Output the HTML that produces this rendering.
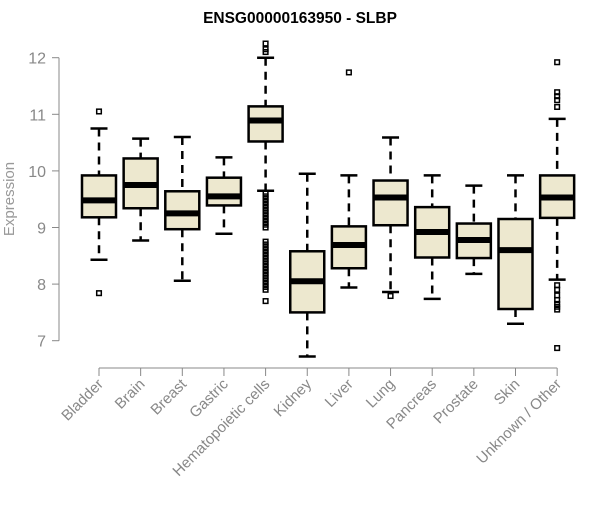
<!DOCTYPE html>
<html><head><meta charset="utf-8"><style>
body{margin:0;background:#fff}
svg{font-family:"Liberation Sans",sans-serif}
</style></head><body>
<svg id="chart" width="600" height="500">
<text x="300" y="23" text-anchor="middle" font-weight="bold" font-size="15.5">ENSG00000163950 - SLBP</text>
<text transform="translate(14,199) rotate(-90)" text-anchor="middle" font-size="15" fill="#999">Expression</text>
<g id="yaxis"></g>
<g id="boxes"></g>
<g id="xlabels"></g>
</svg>
<script>
const categories=["Bladder","Brain","Breast","Gastric","Hematopoietic cells","Kidney","Liver","Lung","Pancreas","Prostate","Skin","Unknown / Other"];
const whiskerHigh=[10.75,10.57,10.6,10.24,12.0,9.95,9.92,10.59,9.92,9.74,9.92,10.92];
const q3=[9.92,10.22,9.64,9.88,11.14,8.58,9.02,9.83,9.36,9.07,9.15,9.92];
const medians=[9.48,9.75,9.25,9.55,10.89,8.05,8.69,9.53,8.92,8.78,8.6,9.53];
const q1=[9.18,9.34,8.97,9.39,10.52,7.5,8.28,9.04,8.47,8.46,7.56,9.17];
const whiskerLow=[8.43,8.77,8.06,8.89,9.65,6.72,7.94,7.86,7.74,8.18,7.3,8.08];
const outliers=[[11.05,7.84],[],[],[],[12.1,12.15,12.25,9.6,9.55,9.5,9.45,9.4,9.35,9.3,9.25,9.2,9.15,9.1,9.05,9.0,8.75,8.7,8.65,8.6,8.55,8.5,8.45,8.4,8.35,8.3,8.25,8.2,8.15,8.1,8.05,8.0,7.95,7.9,7.7],[],[11.74],[7.79],[],[],[],[11.92,11.39,11.32,11.25,11.13,7.98,7.9,7.8,7.72,7.65,7.6,7.55,6.87]];
const yTicks=[7,8,9,10,11,12];
const NS="http://www.w3.org/2000/svg";
const y=v=>57.7+(12-v)*56.6;
const x=i=>99+i*41.65;
function mk(tag,attrs,parent){const e=document.createElementNS(NS,tag);for(const k in attrs)e.setAttribute(k,attrs[k]);parent.appendChild(e);return e;}
const ya=document.getElementById('yaxis');
const axl=mk('line',{x1:59,x2:59,y1:y(12),y2:y(7),stroke:'#888'},ya);


yTicks.forEach(t=>{
 const tk=mk('line',{x1:52,x2:59,y1:y(t),y2:y(t),stroke:'#888'},ya);
 
 
 const tl=mk('text',{x:46,y:y(t)+6,'text-anchor':'end','font-size':16,fill:'#888'},ya);
 tl.textContent=t;
 
 
});
const bg=document.getElementById('boxes');
const xl=document.getElementById('xlabels');
categories.forEach((c,i)=>{
 const cx=x(i),hw=17;
 const g=mk('g',{},bg);
 
 
 mk('line',{x1:cx,x2:cx,y1:y(whiskerHigh[i]),y2:y(q3[i]),stroke:'#000','stroke-width':2.5,'stroke-dasharray':'8,6'},g);
 mk('line',{x1:cx,x2:cx,y1:y(q1[i]),y2:y(whiskerLow[i]),stroke:'#000','stroke-width':2.5,'stroke-dasharray':'8,6'},g);
 mk('line',{x1:cx-8.5,x2:cx+8.5,y1:y(whiskerHigh[i]),y2:y(whiskerHigh[i]),stroke:'#000','stroke-width':2.5},g);
 mk('line',{x1:cx-8.5,x2:cx+8.5,y1:y(whiskerLow[i]),y2:y(whiskerLow[i]),stroke:'#000','stroke-width':2.5},g);
 mk('rect',{x:cx-hw,y:y(q3[i]),width:hw*2,height:y(q1[i])-y(q3[i]),fill:'#ede8cf',stroke:'#000','stroke-width':2.5},g);
 mk('line',{x1:cx-hw,x2:cx+hw,y1:y(medians[i]),y2:y(medians[i]),stroke:'#000','stroke-width':6},g);
 outliers[i].forEach(v=>{
  const p=mk('rect',{x:cx-2.3,y:y(v)-2.3,width:4.6,height:4.6,fill:'none',stroke:'#000','stroke-width':1.5},g);
  
  
 });
 mk('line',{x1:cx,x2:cx,y1:368,y2:376,stroke:'#888'},xl);
 const t=mk('text',{transform:`translate(${cx+5},${385}) rotate(-45)`,'text-anchor':'end','font-size':15,fill:'#888'},xl);
 t.textContent=c;
 
 
});
mk('line',{x1:x(0),x2:x(11),y1:368,y2:368,stroke:'#888'},xl);
</script>
</body></html>
